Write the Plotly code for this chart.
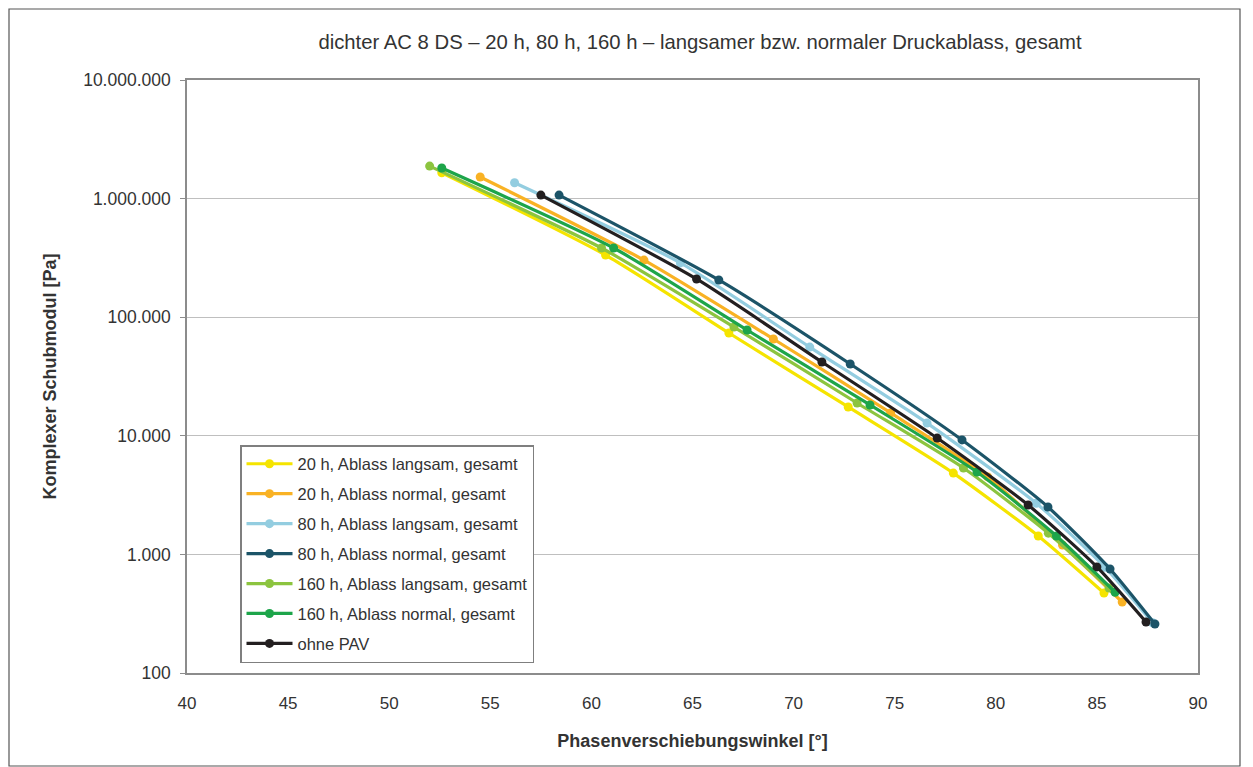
import plotly.graph_objects as go

# ---- data ----
names = [
    "20 h, Ablass langsam, gesamt",
    "20 h, Ablass normal, gesamt",
    "80 h, Ablass langsam, gesamt",
    "80 h, Ablass normal, gesamt",
    "160 h, Ablass langsam, gesamt",
    "160 h, Ablass normal, gesamt",
    "ohne PAV",
]
colors = ["#F5E400", "#F9B224", "#93CDE0", "#1C5468", "#8CC43F", "#1DA54A", "#231F20"]

y20_langsam_x = [52.6, 60.7, 66.8, 72.7, 77.9, 82.1, 85.35]
y20_langsam_y = [1650000, 334000, 73600, 17500, 4850, 1430, 473]

y20_normal_x = [54.5, 62.6, 69.0, 74.8, 79.6, 83.3, 86.25]
y20_normal_y = [1520000, 303000, 65500, 15600, 4500, 1200, 397]

y80_langsam_x = [56.2, 64.4, 70.8, 76.6, 82.0, 85.4, 87.75]
y80_langsam_y = [1360000, 287000, 56000, 12800, 2700, 780, 265]

y80_normal_x = [58.4, 66.3, 72.8, 78.33, 82.58, 85.65, 87.87]
y80_normal_y = [1070000, 206000, 40300, 9230, 2510, 753, 259]

y160_langsam_x = [52.0, 60.5, 67.05, 73.14, 78.4, 82.6, 85.6]
y160_langsam_y = [1880000, 383000, 82600, 18900, 5350, 1510, 520]

y160_normal_x = [52.6, 61.1, 67.7, 73.78, 79.07, 83.0, 85.9]
y160_normal_y = [1810000, 383000, 78000, 18200, 4950, 1430, 480]

ohne_x = [57.5, 65.2, 71.4, 77.1, 81.6, 85.0, 87.43]
ohne_y = [1070000, 210000, 41900, 9570, 2610, 784, 269]

series_x = [y20_langsam_x, y20_normal_x, y80_langsam_x, y80_normal_x,
            y160_langsam_x, y160_normal_x, ohne_x]
series_y = [y20_langsam_y, y20_normal_y, y80_langsam_y, y80_normal_y,
            y160_langsam_y, y160_normal_y, ohne_y]

y_tickvals = [100, 1000, 10000, 100000, 1000000, 10000000]
y_ticktext = ["100", "1.000", "10.000", "100.000", "1.000.000", "10.000.000"]
x_tickvals = [40, 45, 50, 55, 60, 65, 70, 75, 80, 85, 90]

title = "dichter AC 8 DS – 20 h, 80 h, 160 h – langsamer bzw. normaler Druckablass, gesamt"

# ---- figure ----
fig = go.Figure()
for i, (n, c, xs, ys) in enumerate(zip(names, colors, series_x, series_y)):
    fig.add_trace(go.Scatter(
        x=xs, y=ys, name=n, mode="lines+markers", legendgroup="g%d" % i,
        line=dict(color=c, width=3.2, shape="spline", smoothing=0.6),
        marker=dict(color=c, size=9),
    ))

W, H = 1245, 759
L, R, T, B = 179, 55, 72, 94
PW, PH = W - L - R, H - T - B

font_family = "Liberation Sans, Arial, sans-serif"
fig.update_layout(
    width=W, height=H,
    paper_bgcolor="white", plot_bgcolor="white",
    margin=dict(l=L, r=R, t=T, b=B),
    font=dict(family=font_family, size=16, color="#333333"),
    title=dict(text=title, x=692 / W, xanchor="center", y=1 - 34 / H, yanchor="middle",
               font=dict(size=20.3, color="#333333")),
    showlegend=True,
    legend=dict(
        x=53 / PW, y=10 / PH, xanchor="left", yanchor="bottom",
        bgcolor="white", bordercolor="#7f7f7f", borderwidth=1.5,
        font=dict(size=16.5, color="#333333"),
        tracegroupgap=5.5, itemwidth=46,
    ),
    xaxis=dict(
        range=[40, 90], tickvals=x_tickvals, showgrid=False,
        showline=True, linecolor="#8c8c8c", linewidth=1.5, mirror=True,
        ticks="", ticklabelstandoff=14, tickfont=dict(size=17, color="#333333"),
        title=dict(text="<b>Phasenverschiebungswinkel [°]</b>", standoff=22,
                   font=dict(size=18, color="#333333")),
        zeroline=False,
    ),
    yaxis=dict(
        type="log", range=[2, 7], tickvals=y_tickvals, ticktext=y_ticktext,
        showgrid=True, gridcolor="#BFBFBF", gridwidth=1.2,
        showline=True, linecolor="#8c8c8c", linewidth=1.5, mirror=True,
        ticks="outside", ticklen=5, tickcolor="#8c8c8c", ticklabelstandoff=6,
        tickfont=dict(size=17.5, color="#333333"),
        title=dict(text="<b>Komplexer Schubmodul [Pa]</b>", standoff=22,
                   font=dict(size=18, color="#333333")),
        zeroline=False,
    ),
)

# outer chart frame (the figure edge)
fig.add_shape(type="rect", xref="paper", yref="paper",
              x0=(1 - L) / PW, x1=(1232 - L) / PW,
              y0=-(B - 1) / PH, y1=1 + (T - 1) / PH,
              line=dict(color="#555555", width=1.2), layer="below")

fig.write_html("out.html")
